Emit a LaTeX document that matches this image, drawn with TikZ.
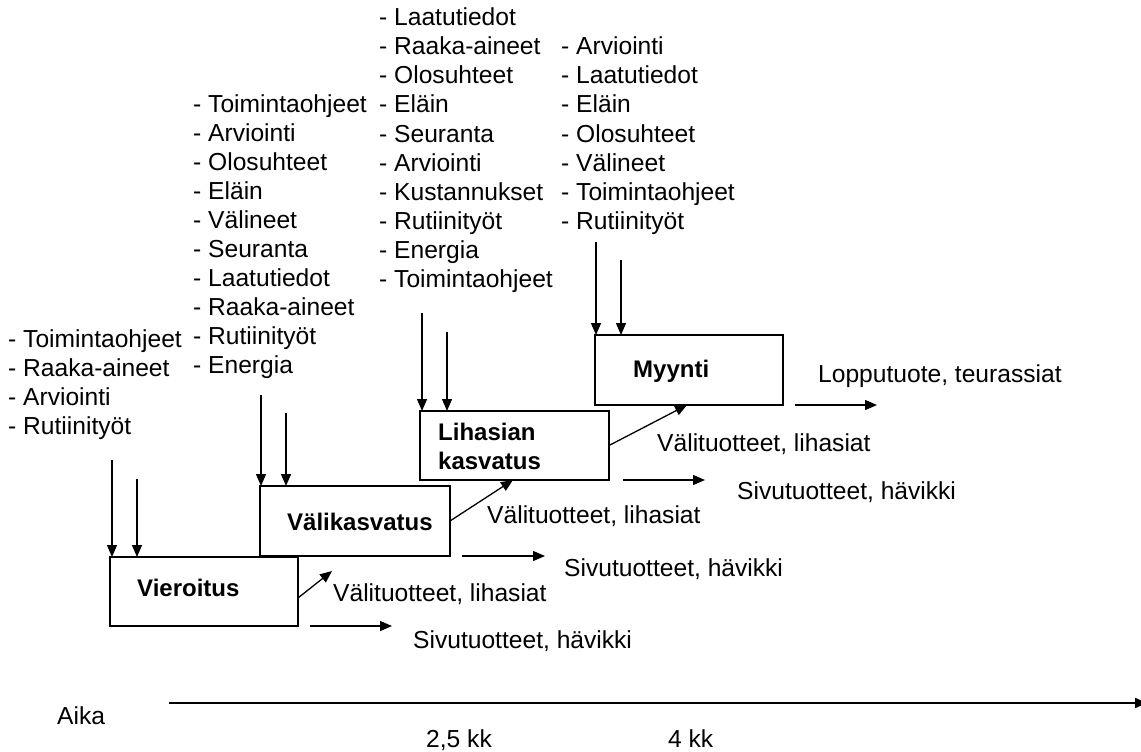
\documentclass[tikz,border=0pt]{standalone}
\usepackage{fontspec}
\setmainfont{Liberation Sans}
\usetikzlibrary{arrows.meta}

\tikzset{
  item/.style={font=\fontsize{24.6}{29}\selectfont, inner sep=0pt, anchor=base west},
  stage/.style={draw, line width=1.5pt, inner sep=0pt, outer sep=0pt, anchor=north west},
  stagename/.style={font=\fontsize{24}{29}\selectfont\bfseries, inner sep=0pt, align=left},
  flow/.style={line width=1.3pt, -{Triangle[length=12pt, width=10pt]}}
}

\begin{document}
\begin{tikzpicture}[x=1pt, y=-1pt]
\useasboundingbox (0,0) rectangle (1141,752);

% stages
\path (110,557) node[stage, minimum width=188pt, minimum height=69pt] (vier) {}
      (260,486) node[stage, minimum width=190pt, minimum height=70pt] (vali) {}
      (420,411) node[stage, minimum width=189pt, minimum height=69pt] (lihas) {}
      (595,335) node[stage, minimum width=188pt, minimum height=70pt] (myynti) {};

\path (137,596) node[stagename, anchor=base west] (vier-n) {Vieroitus}
      (287,530) node[stagename, anchor=base west] (vali-n) {Välikasvatus}
      (438,446) node[stagename, anchor=west] (lihas-n) {Lihasian\\kasvatus}
      (633,377) node[stagename, anchor=base west] (myynti-n) {Myynti};

% input lists
\foreach \t [count=\i] in {Toimintaohjeet, Raaka-aineet, Arviointi, Rutiinityöt}
  \node[item] (in1-\i) at (8, {347+29*(\i-1)}) {- \t};
\foreach \t [count=\i] in {Toimintaohjeet, Arviointi, Olosuhteet, Eläin, Välineet,
    Seuranta, Laatutiedot, Raaka-aineet, Rutiinityöt, Energia}
  \node[item] (in2-\i) at (193, {112+29*(\i-1)}) {- \t};
\foreach \t [count=\i] in {Laatutiedot, Raaka-aineet, Olosuhteet, Eläin, Seuranta,
    Arviointi, Kustannukset, Rutiinityöt, Energia, Toimintaohjeet}
  \node[item] (in3-\i) at (379, {26+29*(\i-1)}) {- \t};
\foreach \t [count=\i] in {Arviointi, Laatutiedot, Eläin, Olosuhteet, Välineet,
    Toimintaohjeet, Rutiinityöt}
  \node[item] (in4-\i) at (561, {55+29*(\i-1)}) {- \t};

% arrows into the stages
\foreach \s/\xa/\ya/\xb/\yb in {vier/112/460/137/479, vali/261/395/286/413,
    lihas/422/313/447/332, myynti/596/242/621/260} {
  \coordinate (\s-a) at (\xa,\ya);
  \coordinate (\s-b) at (\xb,\yb);
  \draw[flow] (\s-a) -- (\s-a |- \s.north);
  \draw[flow] (\s-b) -- (\s-b |- \s.north);
}

% products
\coordinate (vier-o) at (332,571);
\coordinate (vali-o) at (513,480);
\coordinate (lihas-o) at (687,405);
\draw[flow] ([yshift=-6.5pt]vier.east) -- (vier-o);
\draw[flow] (vali.east) -- (vali-o);
\draw[flow] (lihas.east) -- (lihas-o);

\coordinate (vier-e) at (392,626);
\coordinate (vali-e) at (545,556);
\coordinate (lihas-e) at (705,480);
\coordinate (myynti-e) at (877,405);
\draw[flow] ([xshift=12pt]vier.south east) -- (vier-e);
\draw[flow] ([xshift=12pt]vali.south east) -- (vali-e);
\draw[flow] ([xshift=14pt]lihas.south east) -- (lihas-e);
\draw[flow] ([xshift=12pt]myynti.south east) -- (myynti-e);

\path (333,601) node[item] (vier-v) {Välituotteet, lihasiat}
      (413,648) node[item] (vier-s) {Sivutuotteet, hävikki}
      (487,523) node[item] (vali-v) {Välituotteet, lihasiat}
      (564,576) node[item] (vali-s) {Sivutuotteet, hävikki}
      (657,451) node[item] (lihas-v) {Välituotteet, lihasiat}
      (737,499) node[item] (lihas-s) {Sivutuotteet, hävikki}
      (818,382) node[item] (myynti-l) {Lopputuote, teurassiat};

% time axis
\coordinate (t0) at (169,703);
\coordinate (t1) at (1147,703);
\draw[line width=2pt, -{Triangle[length=12pt, width=10pt]}] (t0) -- (t1);
\path (57,724) node[item] (aika) {Aika}
      (426,747) node[item] (kk25) {2,5 kk}
      (668,747) node[item] (kk4) {4 kk};

\end{tikzpicture}
\end{document}
